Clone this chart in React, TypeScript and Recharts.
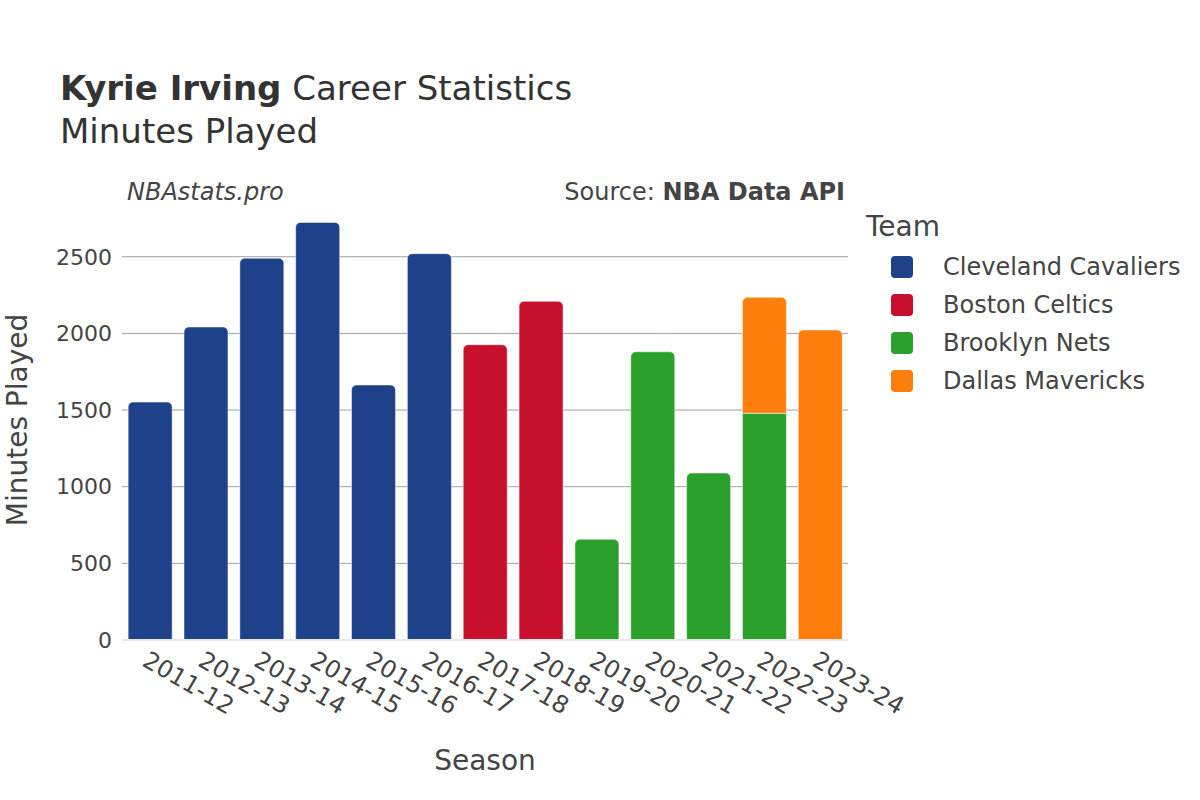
import { BarChart, Bar, XAxis, YAxis, CartesianGrid, ReferenceLine, Rectangle } from 'recharts';

const SEASONS = ['2011-12', '2012-13', '2013-14', '2014-15', '2015-16', '2016-17', '2017-18', '2018-19', '2019-20', '2020-21', '2021-22', '2022-23', '2023-24'];
const CLE = [1552, 2042, 2490, 2724, 1663, 2520, null, null, null, null, null, null, null];
const BOS = [null, null, null, null, null, null, 1926, 2209, null, null, null, null, null];
const BKN = [null, null, null, null, null, null, null, null, 657, 1880, 1089, 1479, null];
const DAL = [null, null, null, null, null, null, null, null, null, null, null, 756, 2022];
const Y_TICKS = [0, 500, 1000, 1500, 2000, 2500];

const TEAMS = [
    { key: 'cle', name: 'Cleveland Cavaliers', color: '#1d428a', values: CLE },
    { key: 'bos', name: 'Boston Celtics', color: '#c8102e', values: BOS },
    { key: 'bkn', name: 'Brooklyn Nets', color: '#2ca02c', values: BKN },
    { key: 'dal', name: 'Dallas Mavericks', color: '#ff7f0e', values: DAL },
];

const data = SEASONS.map((season, i) => {
    const row: Record<string, any> = { season };
    TEAMS.forEach(t => { row[t.key] = t.values[i]; });
    return row;
});

const FONT = '"DejaVu Sans", Verdana, sans-serif';
const TEXT = '#444';

// topmost team with a value in this season
function topKey(row: Record<string, any>) {
    let top = '';
    TEAMS.forEach(t => { if (row[t.key] != null) top = t.key; });
    return top;
}

function XTick(props: any) {
    const { x, y, payload } = props;
    const tx = x - 5;
    const ty = y + 10;
    return (
        <text x={tx} y={ty} transform={`rotate(30, ${tx}, ${ty})`} textAnchor="start" dominantBaseline="central"
            fill={TEXT} fontSize={24} fontFamily={FONT}>
            {payload.value}
        </text>
    );
}

export default function App() {
    return (
        <div style={{ position: 'absolute', left: 0, top: 0, width: 1200, height: 800, background: '#fff', fontFamily: FONT }}>
            <div style={{ position: 'absolute', left: 60, top: 67, fontSize: 34, color: '#333', lineHeight: '43px' }}>
                <div><b>Kyrie Irving</b> Career Statistics</div>
                <div>Minutes Played</div>
            </div>
            <div style={{ position: 'absolute', left: 127, top: 178, fontSize: 24, fontStyle: 'italic', color: TEXT }}>NBAstats.pro</div>
            <div style={{ position: 'absolute', right: 1200 - 845, top: 178, fontSize: 24, color: TEXT }}>
                Source: <b>NBA Data API</b>
            </div>
            <div style={{ position: 'absolute', left: 17, top: 420, transform: 'translate(-50%, -50%) rotate(-90deg)', fontSize: 28, color: TEXT, whiteSpace: 'nowrap' }}>
                Minutes Played
            </div>
            <div style={{ position: 'absolute', left: 485, top: 760, transform: 'translate(-50%, -50%)', fontSize: 28, color: TEXT }}>
                Season
            </div>
            <div style={{ position: 'absolute', left: 866, top: 210, fontFamily: FONT, color: TEXT }}>
                <div style={{ fontSize: 28, marginBottom: 5 }}>Team</div>
                {TEAMS.map(t => (
                    <div key={t.key} style={{ display: 'flex', alignItems: 'center', height: 38 }}>
                        <div style={{ width: 22, height: 22, borderRadius: 4, background: t.color, marginLeft: 25, marginRight: 30 }} />
                        <span style={{ fontSize: 24 }}>{t.name}</span>
                    </div>
                ))}
            </div>
            <BarChart width={1200} height={800} data={data} margin={{ top: 200, right: 352, bottom: 100, left: 62 }}
                barCategoryGap="11%">
                <CartesianGrid vertical={false} stroke="#a0a0a0" horizontalValues={Y_TICKS} />
                <XAxis dataKey="season" axisLine={false} tickLine={false} tick={<XTick />} interval={0} height={60} />
                <YAxis domain={[0, 2870]} ticks={Y_TICKS} axisLine={false} tickLine={false} width={60}
                    tick={{ fill: TEXT, fontSize: 22, fontFamily: FONT, dx: -2 }} allowDataOverflow />
                <ReferenceLine y={0} stroke="#e8e8e8" strokeWidth={2} />
                {TEAMS.map(t => (
                    <Bar key={t.key} dataKey={t.key} name={t.name} stackId="a" fill={t.color} isAnimationActive={false}
                        shape={(p: any) => (
                            <Rectangle {...p} stroke="#fff" strokeWidth={0.5}
                                radius={topKey(p.payload) === t.key ? [5, 5, 0, 0] : 0} />
                        )} />
                ))}
            </BarChart>
        </div>
    );
}
